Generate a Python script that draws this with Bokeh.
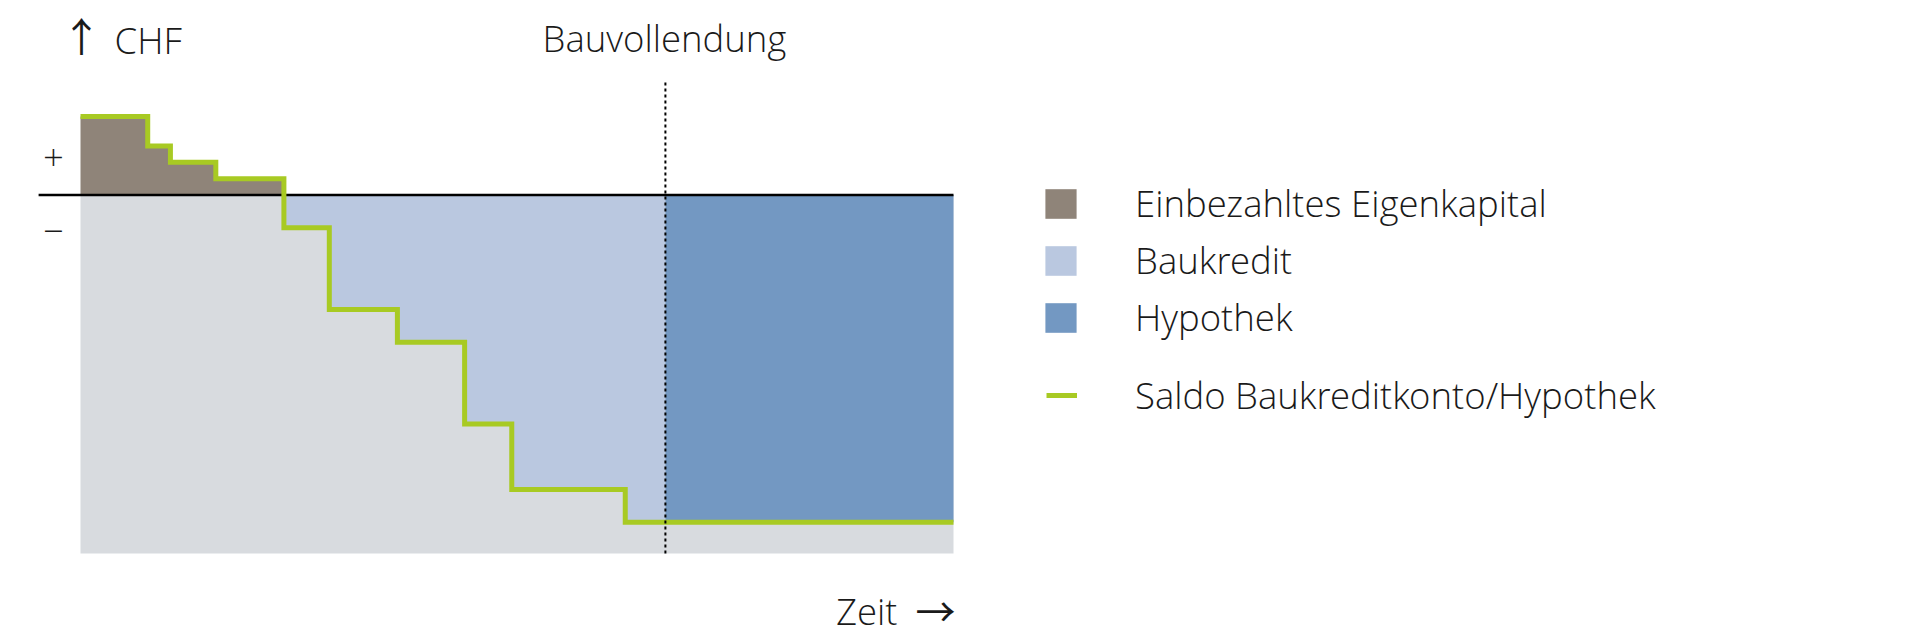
from bokeh.plotting import figure
from bokeh.models import Range1d, Label, Legend, LegendItem
from bokeh.embed import file_html
from bokeh.resources import INLINE

# ---- data (abstract units: time 0..100, CHF index) ----
time_edges = [0, 7.7, 10.3, 15.5, 23.3, 28.5, 36.3, 44.0, 49.4, 62.4, 100]
saldo = [24, 15, 10, 5, -10, -35, -45, -70, -90, -100]
bauvollendung = 67.0
hypothek = -100
y_floor = -109.5
y_top = 35
zero_left = -4.8

legend_labels = ["Einbezahltes Eigenkapital", "Baukredit", "Hypothek",
                 "Saldo Baukreditkonto/Hypothek"]

# ---- colours / fonts ----
C_BROWN = "#8F8479"
C_LBLUE = "#BAC8E0"
C_DBLUE = "#7398C2"
C_GREY = "#D8DBDF"
C_GREEN = "#A8CA23"
C_TEXT = "#1a1a1a"
FONT = "Open Sans Light"
ARROW_FONT = "Noto Sans CJK JP"
FS = "36.5px"

W, H = 1920, 640
px0, px1 = 80, 953           # x=0 .. x=100 on the page
pzero, punit = 194.5, 3.273  # y=0 position, px per unit
xs = (px1 - px0) / 100.0
x_range = Range1d((0 - px0) / xs, (W - px0) / xs)
y_range = Range1d(-(H - pzero) / punit, pzero / punit)

p = figure(width=W, height=H, x_range=x_range, y_range=y_range,
           output_backend="svg", toolbar_location=None, min_border=0,
           x_axis_location=None, y_axis_location=None)
p.grid.visible = False
p.outline_line_color = None
p.background_fill_color = "white"
p.border_fill_color = "white"

# grey background of the negative region
p.quad(left=[time_edges[0]], right=[time_edges[-1]], top=[0], bottom=[y_floor],
       fill_color=C_GREY, line_color=None)

# Eigenkapital polygon (positive saldo)
bx, by = [], []
for i, v in enumerate(saldo):
    if v > 0:
        bx += [time_edges[i], time_edges[i + 1]]
        by += [v, v]
bx += [bx[-1], bx[0]]
by += [0, 0]
r_brown = p.patch(bx, by, fill_color=C_BROWN, line_color=None)

# Baukredit polygon (negative saldo before Bauvollendung)
lx, ly = [], []
for i, v in enumerate(saldo):
    if v < 0 and time_edges[i] < bauvollendung:
        lx += [time_edges[i], min(time_edges[i + 1], bauvollendung)]
        ly += [v, v]
lx += [lx[-1], lx[0]]
ly += [0, 0]
r_lblue = p.patch(lx, ly, fill_color=C_LBLUE, line_color=None)

# Hypothek (after Bauvollendung)
r_dblue = p.quad(left=[bauvollendung], right=[time_edges[-1]], top=[0], bottom=[hypothek],
                 fill_color=C_DBLUE, line_color=None)

# zero line
p.line(x=[zero_left, time_edges[-1]], y=[0, 0], line_color="black", line_width=2.5)

# saldo step line
r_line = p.step(x=time_edges, y=saldo + [saldo[-1]], mode="after",
                line_color=C_GREEN, line_width=5, line_join="miter")

# Bauvollendung dashed line
p.line(x=[bauvollendung, bauvollendung], y=[y_floor, y_top], line_color="black",
       line_width=2, line_dash="3 3")


def lab(text, x, y, align="left", size=FS, font=FONT):
    # x, y in page pixels (y from the top); text vertically centred on y
    p.add_layout(Label(x=x, y=H - y, x_units="screen", y_units="screen", text=text,
                       text_font=font, text_font_size=size, text_color=C_TEXT,
                       text_align=align, text_baseline="middle"))


lab("\u2191", 81, 34, align="center", size="40px", font=ARROW_FONT)
lab("CHF", 114, 39)
lab("Bauvollendung", 664, 37, align="center")
lab("Zeit", 897, 610, align="right")
lab("\u2192", 935, 609, align="center", size="40px", font=ARROW_FONT)
lab("+", 53, 157, align="center")
lab("\u2212", 53, 230, align="center")

common = dict(border_line_color=None, background_fill_alpha=0, padding=0, margin=0,
              label_text_font=FONT, label_text_font_size=FS, label_text_color=C_TEXT,
              label_height=30)

leg1 = Legend(items=[LegendItem(label=legend_labels[0], renderers=[r_brown]),
                     LegendItem(label=legend_labels[1], renderers=[r_lblue]),
                     LegendItem(label=legend_labels[2], renderers=[r_dblue])],
              location=(1041, H - 342), spacing=7,
              glyph_width=39, glyph_height=37, label_standoff=55, **common)
leg2 = Legend(items=[LegendItem(label=legend_labels[3], renderers=[r_line])],
              location=(1046, H - 420), spacing=0,
              glyph_width=31, glyph_height=30, label_standoff=58, **common)
p.add_layout(leg1)
p.add_layout(leg2)

open("out.html", "w").write(file_html(p, INLINE))
